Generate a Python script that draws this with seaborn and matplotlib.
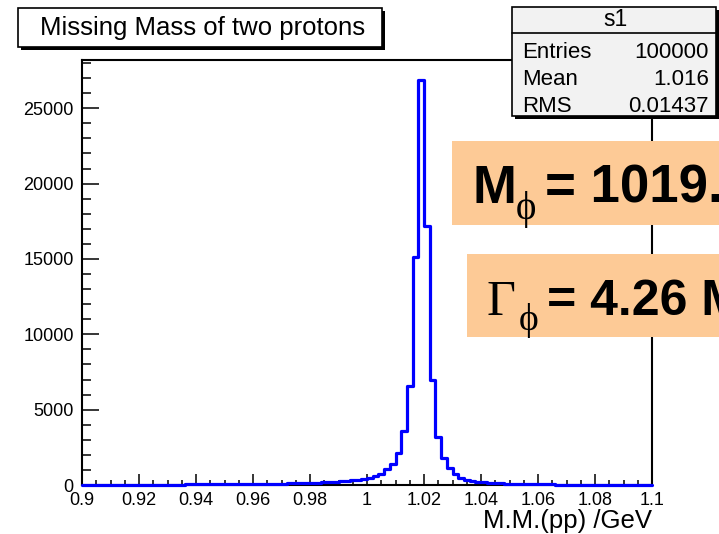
import numpy as np
import pandas as pd
import matplotlib
matplotlib.use("Agg")
import matplotlib.pyplot as plt
from matplotlib.patches import Rectangle
from matplotlib.ticker import MultipleLocator
import seaborn as sns

# bins of the histogram (100 bins, 0.9 .. 1.1 GeV)
bin_lo, bin_hi, n_bins = 0.9, 1.1, 100

# counts per bin
counts = [16, 17, 17, 18, 19, 19, 20, 21, 22, 23,
          24, 25, 26, 27, 28, 30, 31, 33, 35, 37,
          39, 41, 43, 45, 48, 51, 54, 57, 61, 65,
          69, 74, 79, 85, 91, 98, 105, 113, 122, 132,
          144, 157, 172, 190, 210, 235, 265, 300, 345, 400,
          470, 580, 760, 1080, 1420, 2100, 3600, 6600, 15100, 26900,
          17200, 6950, 3200, 1820, 1150, 750, 480, 350, 270, 215,
          175, 145, 122, 104, 90, 78, 68, 60, 53, 47,
          42, 38, 34, 31, 28, 26, 24, 22, 20, 19,
          17, 16, 15, 14, 13, 12, 12, 11, 10, 10]

x_ticks = [0.9, 0.92, 0.94, 0.96, 0.98, 1.0, 1.02, 1.04, 1.06, 1.08, 1.1]
x_tick_labels = ["0.9", "0.92", "0.94", "0.96", "0.98", "1", "1.02", "1.04", "1.06", "1.08", "1.1"]
y_ticks = [0, 5000, 10000, 15000, 20000, 25000]

stat_names = ["Entries", "Mean", "RMS"]
stat_values = ["100000", "1.016", "0.01437"]

edges = np.linspace(bin_lo, bin_hi, n_bins + 1)
df = pd.DataFrame({"mm": (edges[:-1] + edges[1:]) / 2, "n": counts})

sns.set_style("ticks")
plt.rcParams["font.family"] = ["Liberation Sans", "DejaVu Sans"]
plt.rcParams["text.color"] = "black"
plt.rcParams["xtick.color"] = "black"
plt.rcParams["ytick.color"] = "black"
plt.rcParams["axes.labelcolor"] = "black"

W, H = 719, 534
fig = plt.figure(figsize=(W / 100, H / 100), dpi=100)


def fx(x):
    return x / W


def fy(y):
    return 1 - y / H


ax = fig.add_axes([fx(82), fy(485), fx(652) - fx(82), fy(60) - fy(485)])
sns.histplot(data=df, x="mm", weights="n", bins=n_bins, binrange=(bin_lo, bin_hi),
             element="step", fill=False, color="#0000ff", linewidth=2.3, ax=ax)
for ln in ax.lines:
    ln.set_zorder(3)
    ln.set_clip_on(False)

ax.set_xlim(bin_lo, bin_hi)
ax.set_ylim(0, 28200)
ax.set_xticks(x_ticks)
ax.set_xticklabels(x_tick_labels)
ax.set_yticks(y_ticks)
ax.xaxis.set_minor_locator(MultipleLocator(0.005))
ax.yaxis.set_minor_locator(MultipleLocator(1000))
ax.tick_params(axis="both", which="both", direction="in", top=False, right=False,
               width=1.1, color="black", labelsize=13)
ax.tick_params(axis="x", which="major", length=8, pad=5)
ax.tick_params(axis="x", which="minor", length=3.8)
ax.tick_params(axis="y", which="major", length=12.5, pad=6)
ax.tick_params(axis="y", which="minor", length=6.5)
for s in ax.spines.values():
    s.set_visible(True)
    s.set_linewidth(1.5)
    s.set_color("black")
ax.set_ylabel("")
ax.set_xlabel("")
fig.text(fx(652), fy(521), "M.M.(pp) /GeV", ha="right", va="center", fontsize=18.5)


def shadow_box(x0, y0, x1, y1, face):
    fig.add_artist(Rectangle((fx(x0 + 3), fy(y1 + 3)), fx(x1 - x0), fy(y0) - fy(y1),
                             transform=fig.transFigure, facecolor="black", edgecolor="none", zorder=5))
    fig.add_artist(Rectangle((fx(x0), fy(y1)), fx(x1 - x0), fy(y0) - fy(y1),
                             transform=fig.transFigure, facecolor=face, edgecolor="black",
                             linewidth=1.2, zorder=6))


# title box
shadow_box(18, 8, 382, 47, "white")
fig.text(fx(203), fy(28), "Missing Mass of two protons", ha="center", va="center",
         fontsize=18.5, zorder=7)

# statistics box
shadow_box(512, 7, 716, 116, "#f2f2f2")
fig.add_artist(plt.Line2D([fx(512), fx(716)], [fy(33), fy(33)], transform=fig.transFigure,
                          color="black", linewidth=1.2, zorder=7))
fig.text(fx(615), fy(20), "s1", ha="center", va="center", fontsize=16.5, zorder=7)
for i, (name, val) in enumerate(zip(stat_names, stat_values)):
    yy = fy(52 + 27.5 * i)
    fig.text(fx(522), yy, name, ha="left", va="center", fontsize=16, zorder=7)
    fig.text(fx(709), yy, val, ha="right", va="center", fontsize=16, zorder=7)

# orange result boxes
peach = "#fdca96"
fig.add_artist(Rectangle((fx(452), fy(225)), fx(W - 452), fy(141) - fy(225),
                         transform=fig.transFigure, facecolor=peach, edgecolor="none", zorder=8))
fig.add_artist(Rectangle((fx(467), fy(337)), fx(W - 467), fy(254) - fy(337),
                         transform=fig.transFigure, facecolor=peach, edgecolor="none", zorder=8))

serif = ["Liberation Serif", "DejaVu Serif"]
fig.text(fx(473), fy(203), "M", ha="left", va="baseline", fontsize=38, fontweight="bold", zorder=9)
fig.text(fx(516), fy(209), "\u03d5", ha="left", va="center", fontsize=28, family=serif, zorder=9)
fig.text(fx(545), fy(203), "= 1019.46 MeV", ha="left", va="baseline", fontsize=38,
         fontweight="bold", zorder=9)

fig.text(fx(486), fy(315), "\u0393", ha="left", va="baseline", fontsize=36, family=serif, zorder=9)
fig.text(fx(519), fy(321), "\u03d5", ha="left", va="center", fontsize=27, family=serif, zorder=9)
fig.text(fx(547), fy(315), "= 4.26 MeV", ha="left", va="baseline", fontsize=36,
         fontweight="bold", zorder=9)

fig.savefig("out.png", dpi=100)
